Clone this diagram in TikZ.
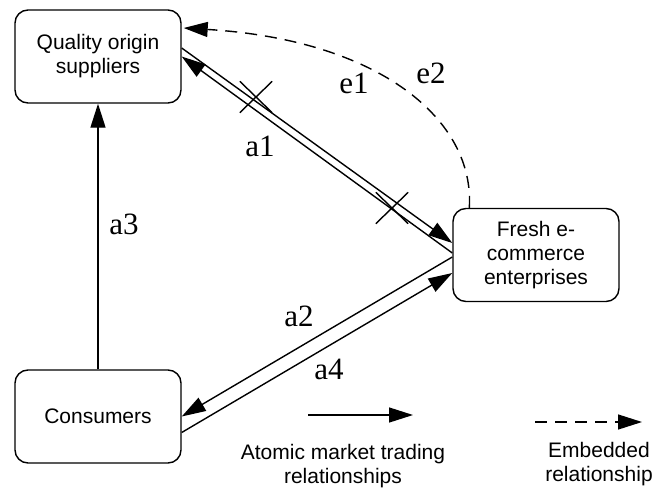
\documentclass[tikz,border=0pt]{standalone}
\usepackage{fontspec}
\setmainfont{Liberation Serif}
\newfontfamily\arialfont{Liberation Sans}
\newfontfamily\timesfont{Liberation Serif}
\usetikzlibrary{arrows.meta, positioning, shapes.misc, calc}

\begin{document}
\begin{tikzpicture}[
  x=1pt, y=-1pt,
  box/.style={draw, rounded corners=13pt, align=center, minimum width=166pt, minimum height=93pt, line width=1.4pt, font=\arialfont\fontsize{21}{24}\selectfont},
  arrow/.style={-{Triangle[length=24pt, width=15pt]}, line width=1.4pt},
  dasharrow/.style={arrow, dash pattern=on 12pt off 8pt},
  lbl/.style={inner sep=0pt, font=\timesfont\fontsize{31}{35}\selectfont},
  legend/.style={align=center, inner sep=0pt, font=\arialfont\fontsize{21}{24}\selectfont},
  xmark/.style={draw, cross out, minimum width=31pt, minimum height=30pt, inner sep=0pt, line width=1.4pt}
]
  \useasboundingbox (0,0) rectangle (654,490);

  \node[box] (qual) at (98,56.5) {Quality origin\\suppliers};
  \node[box] (fresh) at (536,255) {Fresh e-\\commerce\\enterprises};
  \node[box] (cons) at (98,416.5) {Consumers};

  % atomic relationships
  \draw[arrow] (cons) -- (qual);
  \draw[arrow] ($(qual.east)+(0,-8.5)$) -- ($(fresh.west)+(0,-12)$);
  \draw[arrow] ($(fresh.west)+(0,-2)$) -- (qual.east);
  \draw[arrow] ($(fresh.west)+(0,2)$) -- (cons.east);
  \draw[arrow] ($(cons.east)+(0,16)$) -- ($(fresh.west)+(0,18)$);

  % embedded relationship
  \coordinate (estart) at ($(fresh.north west)+(17,0)$);
  \coordinate (eend) at ($(qual.east)+(2,-28.5)$);
  \draw[dasharrow] (estart) .. controls (475,120) and (380,40) .. (eend);

  \node[xmark] (cut1) at (256,97) {};
  \node[xmark] (cut2) at (392,208) {};

  \node[lbl] (a1) at (260,146) {a1};
  \node[lbl] (a2) at (299,316) {a2};
  \node[lbl] (a3) at (124,224) {a3};
  \node[lbl] (a4) at (329,369) {a4};
  \node[lbl] (e1) at (354,83) {e1};
  \node[lbl] (e2) at (431,73) {e2};

  % legend
  \coordinate (atomL) at (308,415);
  \coordinate (atomR) at (413,415);
  \draw[arrow] (atomL) -- (atomR);
  \node[legend] (atomtxt) at (343,466) {Atomic market trading\\relationships};
  \coordinate (embL) at (535,422);
  \coordinate (embR) at (642,422);
  \draw[dasharrow] (embL) -- (embR);
  \node[legend] (embtxt) at (599,464) {Embedded\\relationship};
\end{tikzpicture}
\end{document}
